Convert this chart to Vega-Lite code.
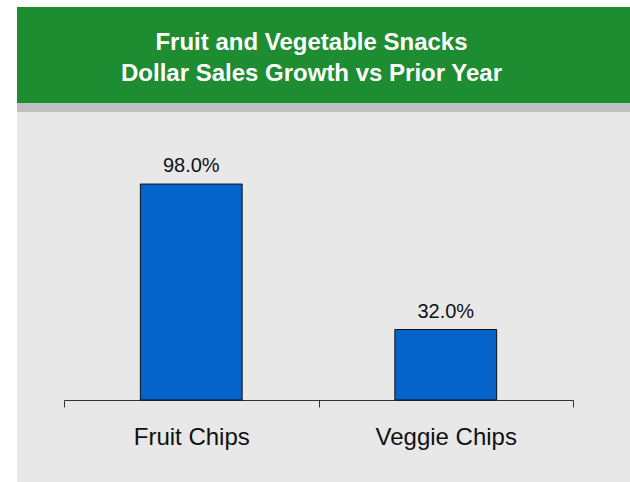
{
  "$schema": "https://vega.github.io/schema/vega-lite/v6.json",
  "padding": {"left": 15, "top": 7, "right": 0, "bottom": 0},
  "background": "white",
  "spacing": 0,
  "config": {"font": "Liberation Sans", "concat": {"spacing": 0}},
  "vconcat": [
    {
      "width": 615,
      "height": 96,
      "view": {"fill": "#1e8c31", "stroke": null},
      "title": {
        "text": ["Fruit and Vegetable Snacks", "Dollar Sales Growth vs Prior Year"],
        "orient": "top",
        "anchor": "middle",
        "offset": -79,
        "dx": -13,
        "color": "white",
        "font": "Liberation Sans",
        "fontSize": 24,
        "fontWeight": "bold",
        "lineHeight": 30.7
      },
      "data": {"values": [{}]},
      "mark": {"type": "point", "opacity": 0}
    },
    {
      "width": 613,
      "height": 9,
      "view": {"fill": "#c0c0c0", "stroke": null},
      "data": {"values": [{}]},
      "mark": {"type": "point", "opacity": 0}
    },
    {
      "width": 613,
      "height": 370,
      "view": {"fill": "#e8e8e8", "stroke": null},
      "data": {"values": [
        {"snack": "Fruit Chips", "growth": 0.98},
        {"snack": "Veggie Chips", "growth": 0.32}
      ]},
      "encoding": {
        "x": {
          "field": "snack",
          "type": "nominal",
          "sort": null,
          "scale": {"range": [47, 556], "paddingInner": 0, "paddingOuter": 0},
          "axis": {
            "title": null,
            "orient": "bottom",
            "offset": -82,
            "tickBand": "extent",
            "tickSize": 7,
            "tickColor": "#333333",
            "domainColor": "#333333",
            "labelFontSize": 24,
            "labelColor": "#111111",
            "labelPadding": 37,
            "labelBaseline": "alphabetic",
            "labelAngle": 0,
            "grid": false
          }
        },
        "y": {
          "field": "growth",
          "type": "quantitative",
          "scale": {"domain": [-0.372, 1.307], "nice": false, "zero": false},
          "axis": {"title": null, "labels": false, "ticks": false, "domain": false, "grid": false, "minExtent": 2, "maxExtent": 2}
        }
      },
      "layer": [
        {"mark": {"type": "bar", "width": {"band": 0.4}, "fill": "#0563c9", "stroke": "#111111", "strokeWidth": 1}},
        {
          "mark": {"type": "text", "dy": -12, "baseline": "alphabetic", "fontSize": 20, "color": "#111111"},
          "encoding": {"text": {"field": "growth", "type": "quantitative", "format": ".1%"}}
        }
      ]
    }
  ]
}
